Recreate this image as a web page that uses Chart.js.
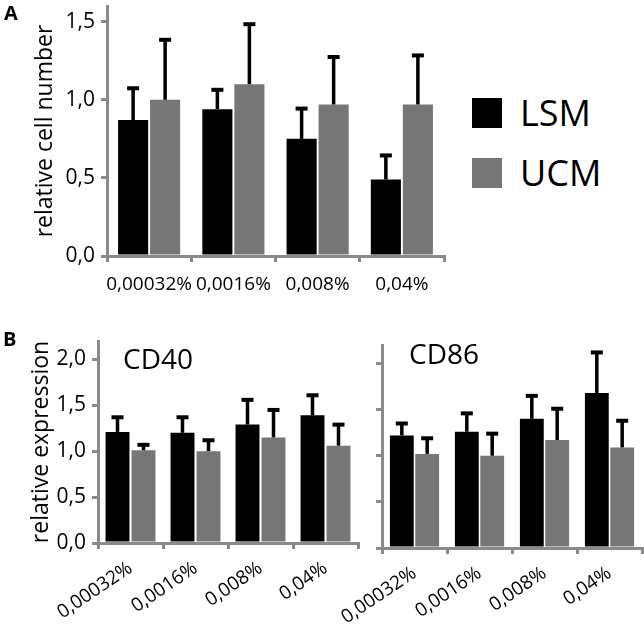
<!DOCTYPE html>
<html>
<head>
<meta charset="utf-8">
<script src="https://cdn.jsdelivr.net/npm/chart.js@4.4.1/dist/chart.umd.min.js"></script>
<style>
  html, body { margin:0; padding:0; background:#fff; }
  body { width:644px; height:625px; position:relative; overflow:hidden; font-family:"Open Sans", sans-serif; color:#000; }
  canvas { position:absolute; display:block; }
  .lbl { position:absolute; line-height:1; white-space:nowrap; }
  .panel { font-weight:bold; font-size:20px; }
  .sub { font-size:28px; }
  .leg { font-size:36px; }
  .sw { position:absolute; width:30px; height:30px; }
</style>
</head>
<body>
<canvas id="cA" width="460" height="300" style="left:0;top:0;width:460px;height:300px"></canvas>
<canvas id="cB1" width="365" height="305" style="left:0;top:320px;width:365px;height:305px"></canvas>
<canvas id="cB2" width="324" height="305" style="left:320px;top:320px;width:324px;height:305px"></canvas>

<div class="lbl panel" style="left:4px;top:3px">A</div>
<div class="lbl panel" style="left:3px;top:329px">B</div>
<div class="lbl sub" style="left:123px;top:344px">CD40</div>
<div class="lbl sub" style="left:409px;top:339px">CD86</div>

<div class="sw" style="left:472px;top:98px;background:#000"></div>
<div class="lbl leg" style="left:520px;top:95px">LSM</div>
<div class="sw" style="left:472px;top:158px;background:#767676"></div>
<div class="lbl leg" style="left:520px;top:155px">UCM</div>

<script>
// ---- data ----
const concentrations = ['0,00032%', '0,0016%', '0,008%', '0,04%'];
const seriesNames = ['LSM', 'UCM'];

// Panel A: relative cell number (mean and upper SD)
const cellLSM    = [0.87, 0.94, 0.75, 0.49];
const cellLSMsd  = [0.21, 0.13, 0.20, 0.16];
const cellUCM    = [1.00, 1.10, 0.97, 0.97];
const cellUCMsd  = [0.39, 0.39, 0.31, 0.32];

// Panel B: relative expression CD40
const cd40LSM    = [1.21, 1.20, 1.29, 1.39];
const cd40LSMsd  = [0.17, 0.18, 0.28, 0.23];
const cd40UCM    = [1.01, 1.00, 1.15, 1.06];
const cd40UCMsd  = [0.07, 0.13, 0.31, 0.24];

// Panel B: relative expression CD86
const cd86LSM    = [1.22, 1.26, 1.40, 1.68];
const cd86LSMsd  = [0.14, 0.21, 0.26, 0.45];
const cd86UCM    = [1.02, 1.00, 1.17, 1.09];
const cd86UCMsd  = [0.18, 0.25, 0.35, 0.30];

const ticksA = [0, 0.5, 1.0, 1.5];
const ticksB = [0, 0.5, 1.0, 1.5, 2.0];

// ---- styles ----
const AXIS = '#8a8a8a';
const BLACK = '#000000';
const GREY = '#767676';
const FONT = '"Open Sans", sans-serif';
const fmt = v => Number(v).toFixed(1).replace('.', ',');

const errorBars = {
  id: 'errorBars',
  afterDatasetsDraw(chart) {
    const ctx = chart.ctx;
    const y = chart.scales.y;
    chart.data.datasets.forEach((ds, di) => {
      const meta = chart.getDatasetMeta(di);
      meta.data.forEach((bar, i) => {
        const top = y.getPixelForValue(ds.data[i] + ds.errors[i]);
        const base = bar.y;
        ctx.save();
        ctx.fillStyle = '#000';
        ctx.fillRect(bar.x - 1.75, top, 3.5, base - top);
        ctx.fillRect(bar.x - 6, top - 1, 12, 4);
        ctx.restore();
      });
    });
  }
};

function makeChart(id, opts) {
  return new Chart(document.getElementById(id), {
    type: 'bar',
    data: {
      labels: concentrations,
      datasets: [
        { label: seriesNames[0], data: opts.lsm, errors: opts.lsmSd, backgroundColor: BLACK,
          categoryPercentage: opts.cat, barPercentage: opts.bar },
        { label: seriesNames[1], data: opts.ucm, errors: opts.ucmSd, backgroundColor: GREY,
          categoryPercentage: opts.cat, barPercentage: opts.bar }
      ]
    },
    options: {
      responsive: false,
      animation: false,
      events: [],
      layout: { padding: { top: opts.padTop, right: opts.padRight, left: 0, bottom: 0 } },
      plugins: { legend: { display: false }, tooltip: { enabled: false }, title: { display: false } },
      scales: {
        x: {
          grid: { display: true, drawOnChartArea: false, drawTicks: true, tickLength: 6, color: AXIS, lineWidth: 3, offset: true },
          border: { display: true, color: AXIS, width: 3 },
          ticks: { color: '#000', font: { family: FONT, size: 19 }, minRotation: opts.rot, maxRotation: opts.rot,
                   padding: opts.xPad, autoSkip: false },
          afterFit: s => { s.height = opts.xH; s.paddingLeft = 0; s.paddingRight = 0; }
        },
        y: {
          min: 0, max: opts.max,
          afterBuildTicks: s => { s.ticks = opts.ticks.map(v => ({ value: v })); },
          grid: { display: true, drawOnChartArea: false, drawTicks: true, tickLength: 6, color: AXIS, lineWidth: 3 },
          border: { display: true, color: AXIS, width: 3 },
          ticks: { display: opts.yLabels, color: '#000', font: { family: FONT, size: 21 }, padding: 6, callback: v => fmt(v) },
          title: { display: !!opts.yTitle, text: opts.yTitle || '', color: '#000', font: { family: FONT, size: 23 },
                   padding: { top: opts.titlePad, bottom: 0 } },
          afterFit: s => { s.width = opts.yW; s.paddingTop = 0; s.paddingBottom = 0; }
        }
      }
    },
    plugins: [errorBars]
  });
}

makeChart('cA', {
  lsm: cellLSM, lsmSd: cellLSMsd, ucm: cellUCM, ucmSd: cellUCMsd,
  cat: 0.76, bar: 0.94, padTop: 6, padRight: 16, rot: 0, xPad: 11, xH: 44,
  max: 1.6, ticks: ticksA, yLabels: true, yTitle: 'relative cell number', titlePad: 32, yW: 107
});
makeChart('cB1', {
  lsm: cd40LSM, lsmSd: cd40LSMsd, ucm: cd40UCM, ucmSd: cd40UCMsd,
  cat: 0.80, bar: 0.92, padTop: 21, padRight: 7, rot: 34, xPad: 8, xH: 82,
  max: 2.2, ticks: ticksB, yLabels: true, yTitle: 'relative expression', titlePad: 28, yW: 98
});
makeChart('cB2', {
  lsm: cd86LSM, lsmSd: cd86LSMsd, ucm: cd86UCM, ucmSd: cd86UCMsd,
  cat: 0.78, bar: 0.94, padTop: 25, padRight: 2, rot: 34, xPad: 8, xH: 77,
  max: 2.2, ticks: ticksB, yLabels: false, yTitle: '', titlePad: 0, yW: 62
});
</script>
</body>
</html>
